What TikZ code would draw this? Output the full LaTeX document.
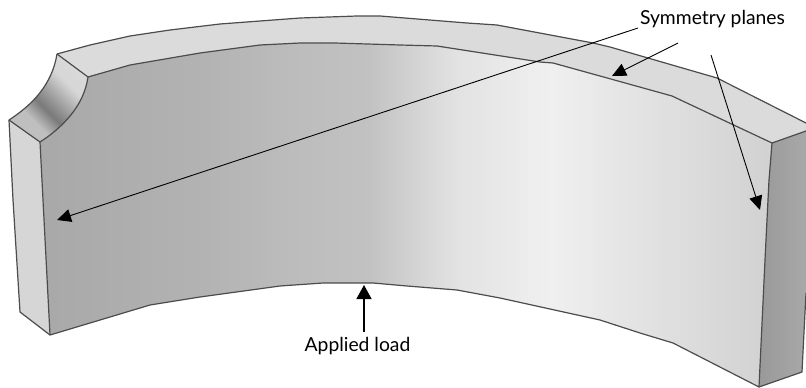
\documentclass[tikz,border=0pt]{standalone}
\usepackage{fontspec}
\setmainfont{Lato}
\usetikzlibrary{arrows.meta}
\pgfdeclarehorizontalshading{facemain}{100bp}{
 color(0bp)=(black!34);
 color(25bp)=(black!34);
 color(35.9bp)=(black!30);
 color(42.8bp)=(black!26);
 color(47.5bp)=(black!24);
 color(51.6bp)=(black!15);
 color(53.7bp)=(black!11);
 color(59.8bp)=(black!6);
 color(63.3bp)=(black!9);
 color(75bp)=(black!18);
 color(100bp)=(black!18)}
\pgfdeclarehorizontalshading{faceright}{100bp}{
 color(0bp)=(black!40);
 color(25bp)=(black!40);
 color(75bp)=(black!34);
 color(100bp)=(black!34)}
\pgfdeclareverticalshading{facefillet}{100bp}{
 color(0bp)=(black!25);
 color(34bp)=(black!25);
 color(44bp)=(black!52);
 color(50bp)=(black!42);
 color(64bp)=(black!16);
 color(100bp)=(black!12)}
\tikzset{
 edgeline/.style={draw=black!70,line width=1.2pt,line join=round},
 leader/.style={draw=black,line width=0.9pt,-{Triangle[length=14pt,width=13pt]}},
 loadleader/.style={draw=black,line width=1.4pt,-{Triangle[length=14pt,width=15pt]}},
 lbl/.style={font=\fontsize{19.3}{22}\selectfont,text=black,inner sep=0pt,anchor=base}
}
\def\topouter{(57,54) -- (90,45) -- (130,36) -- (170,30) -- (220,24) -- (300,18) -- (357,16) -- (380,16) -- (467,23) -- (497,25) -- (593,43) -- (610,47) -- (717,78) -- (806,123)}
\def\topinnerback{(772,143) -- (672,96) -- (600,76) -- (553,63) -- (540,62) -- (437,46) -- (400,45) -- (335,43) -- (300,43) -- (260,45) -- (200,53) -- (130,65) -- (88,77)}
\def\rightedge{-- (769,180) -- (765,260) -- (759,387)}
\def\bottomedge{-- (673,343) -- (640,333) -- (600,320) -- (500,298) -- (457,290) -- (407,286) -- (373,283) -- (353,283) -- (323,283) -- (280,286) -- (200,297) -- (150,305) -- (50,335)}
\def\leftinner{-- (43,200) -- (40,142)}
\def\filletinner{.. controls (62,128) and (84,106) .. (88,77)}
\begin{document}
\begin{tikzpicture}[x=1pt,y=-1pt]
\useasboundingbox (0,0) rectangle (806,388);
% main face
\shade[shading=facemain] \topinnerback -- (88,77) .. controls (84,106) and (62,128) .. (40,142) -- (43,200) -- (50,335) -- (150,305) -- (200,297) -- (280,286) -- (323,283) -- (353,283) -- (373,283) -- (407,286) -- (457,290) -- (500,298) -- (600,320) -- (640,333) -- (673,343) -- (759,387) -- (765,260) -- (769,180) -- cycle;
% top face
\fill[black!14] \topouter -- (806,131) -- (772,143) -- (672,96) -- (600,76) -- (553,63) -- (540,62) -- (437,46) -- (400,45) -- (335,43) -- (300,43) -- (260,45) -- (200,53) -- (130,65) -- (88,77) -- cycle;
% left face
\fill[black!16] (9,120) -- (40,142) -- (43,200) -- (50,335) -- (20,312) -- (13,200) -- cycle;
% right face
\shade[shading=faceright] (772,143) -- (806,131) -- (806,293) -- (802,372) -- (759,387) -- (765,260) -- (769,180) -- cycle;
% fillet
\shade[shading=facefillet,shading angle=-45] (57,54) .. controls (52,85) and (32,105) .. (9,120) -- (40,142) .. controls (62,128) and (84,106) .. (88,77) -- cycle;
% edges
\draw[edgeline] \topouter;
\draw[edgeline] \topinnerback;
\draw[edgeline] (772,143) \rightedge \bottomedge \leftinner \filletinner;
\draw[edgeline] (57,54) -- (88,77);
\draw[edgeline] (57,54) .. controls (52,85) and (32,105) .. (9,120) -- (40,142);
\draw[edgeline] (9,120) -- (13,200) -- (20,312) -- (50,335);
\draw[edgeline] (772,143) -- (806,131);
\draw[edgeline] (806,293) -- (802,372) -- (759,387);
% labels
\node[lbl] (sym) at (712.5,24) {Symmetry planes};
\node[lbl] (load) at (357.5,351) {Applied load};
% connector anchors
\coordinate (symA) at (638,28);
\coordinate (symB) at (678,43);
\coordinate (symC) at (711,55);
\coordinate (tipA) at (57,220);
\coordinate (tipB) at (612,76);
\coordinate (tipC) at (760,210);
\coordinate (loadS) at (364,332);
\coordinate (tipL) at (364,285);
\draw[leader] (symA) -- (tipA);
\draw[leader] (symB) -- (tipB);
\draw[leader] (symC) -- (tipC);
\draw[loadleader] (loadS) -- (tipL);
\end{tikzpicture}
\end{document}
